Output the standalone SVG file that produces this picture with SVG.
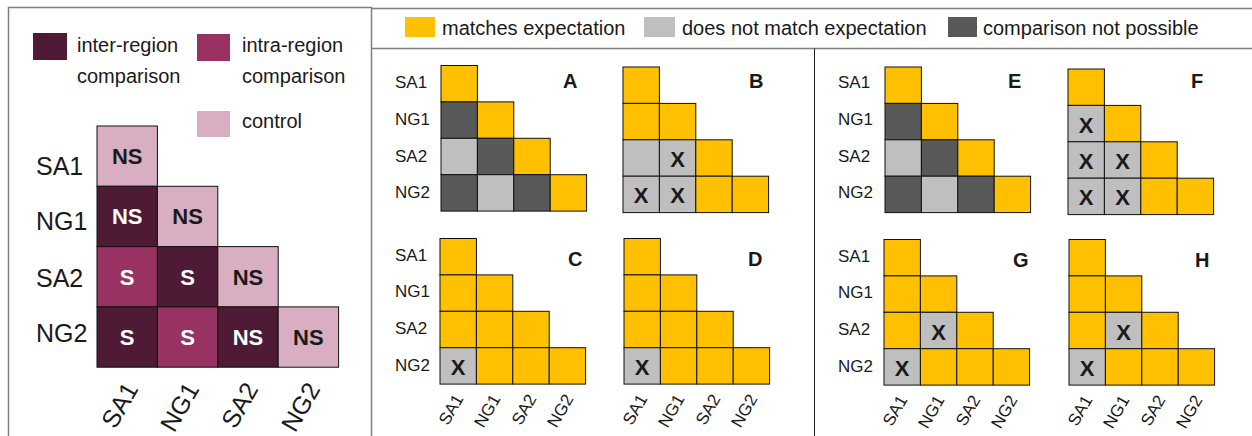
<svg xmlns="http://www.w3.org/2000/svg" width="1252" height="436" viewBox="0 0 1252 436">
<style>
text{font-family:"Liberation Sans",Arial,sans-serif;fill:#1a1a1a}
.frame{fill:none;stroke:#7f7f7f;stroke-width:1.5}
.div{fill:none;stroke:#222;stroke-width:1}
.c{stroke:#111;stroke-width:1}
.Y{fill:#FFC000}
.L{fill:#BFBFBF}
.D{fill:#595959}
.inter{fill:#4E1A35}
.intra{fill:#983262}
.ctrl{fill:#D9AEC2}
.leg{font-size:20px}
.big{font-size:25px}
.row{font-size:17px}
.col{font-size:17px}
.let{font-size:20px;font-weight:bold}
.x{font-size:22px;font-weight:bold;text-anchor:middle}
.ns{font-size:22px;font-weight:bold;text-anchor:middle}
.w{fill:#ffffff}
</style>
<g id="frames">
<path class="frame" d="M8.5,437V7.5H371.5V437"/>
<path class="frame" d="M371.5,8.5H1252M371.5,48.5H1252"/>
<path class="div" d="M814.5,48.5V436"/>
</g>
<g id="legend-left">
<rect class="inter" x="33" y="33" width="34" height="27"/>
<text class="leg" x="77" y="52">inter-region</text>
<text class="leg" x="77" y="83">comparison</text>
<rect class="intra" x="197" y="34" width="33" height="27"/>
<text class="leg" x="242" y="52">intra-region</text>
<text class="leg" x="242" y="83">comparison</text>
<rect class="ctrl" x="197" y="111" width="33" height="26"/>
<text class="leg" x="242" y="128">control</text>
</g>
<g id="legend-right">
<rect class="Y" x="405" y="17" width="30" height="20"/>
<text class="leg" x="442" y="35">matches expectation</text>
<rect class="L" x="644" y="17" width="31" height="20"/>
<text class="leg" x="682" y="35">does not match expectation</text>
<rect class="D" x="948" y="17" width="29" height="20"/>
<text class="leg" x="983" y="35">comparison not possible</text>
</g>
<g id="summary-matrix">
<text class="big" x="36" y="175">SA1</text>
<text class="big" x="36" y="230">NG1</text>
<text class="big" x="36" y="287">SA2</text>
<text class="big" x="36" y="342">NG2</text>
<rect class="c ctrl" x="97" y="126" width="60.4" height="60.3"/>
<rect class="c inter" x="97" y="186.3" width="60.4" height="60.3"/>
<rect class="c ctrl" x="157.4" y="186.3" width="60.4" height="60.3"/>
<rect class="c intra" x="97" y="246.6" width="60.4" height="60.3"/>
<rect class="c inter" x="157.4" y="246.6" width="60.4" height="60.3"/>
<rect class="c ctrl" x="217.8" y="246.6" width="60.4" height="60.3"/>
<rect class="c inter" x="97" y="306.9" width="60.4" height="60.3"/>
<rect class="c intra" x="157.4" y="306.9" width="60.4" height="60.3"/>
<rect class="c inter" x="217.8" y="306.9" width="60.4" height="60.3"/>
<rect class="c ctrl" x="278.2" y="306.9" width="60.4" height="60.3"/>
<text class="ns" x="127.2" y="164">NS</text>
<text class="ns w" x="127.2" y="224">NS</text>
<text class="ns" x="187.6" y="224">NS</text>
<text class="ns w" x="127.2" y="285">S</text>
<text class="ns w" x="187.6" y="285">S</text>
<text class="ns" x="248" y="285">NS</text>
<text class="ns w" x="127.2" y="345">S</text>
<text class="ns w" x="187.6" y="345">S</text>
<text class="ns w" x="248" y="345">NS</text>
<text class="ns" x="308.4" y="345">NS</text>
<text class="big" text-anchor="end" transform="translate(139,389) rotate(-60)">SA1</text>
<text class="big" text-anchor="end" transform="translate(200,389) rotate(-60)">NG1</text>
<text class="big" text-anchor="end" transform="translate(259,389) rotate(-60)">SA2</text>
<text class="big" text-anchor="end" transform="translate(321,389) rotate(-60)">NG2</text>
</g>
<g id="row-labels">
<text class="row" x="395" y="88">SA1</text>
<text class="row" x="395" y="125">NG1</text>
<text class="row" x="395" y="162">SA2</text>
<text class="row" x="395" y="198">NG2</text>
<text class="row" x="395" y="261">SA1</text>
<text class="row" x="395" y="297">NG1</text>
<text class="row" x="395" y="334">SA2</text>
<text class="row" x="395" y="371">NG2</text>
<text class="row" x="838" y="88">SA1</text>
<text class="row" x="838" y="125">NG1</text>
<text class="row" x="838" y="162">SA2</text>
<text class="row" x="838" y="198">NG2</text>
<text class="row" x="838" y="262">SA1</text>
<text class="row" x="838" y="298">NG1</text>
<text class="row" x="838" y="335">SA2</text>
<text class="row" x="838" y="372">NG2</text>
</g>
<g id="panel-A" transform="translate(441,65.5)">
<rect class="c Y" x="0" y="0" width="36.4" height="36.4"/>
<rect class="c D" x="0" y="36.4" width="36.4" height="36.4"/>
<rect class="c Y" x="36.4" y="36.4" width="36.4" height="36.4"/>
<rect class="c L" x="0" y="72.8" width="36.4" height="36.4"/>
<rect class="c D" x="36.4" y="72.8" width="36.4" height="36.4"/>
<rect class="c Y" x="72.8" y="72.8" width="36.4" height="36.4"/>
<rect class="c D" x="0" y="109.2" width="36.4" height="36.4"/>
<rect class="c L" x="36.4" y="109.2" width="36.4" height="36.4"/>
<rect class="c D" x="72.8" y="109.2" width="36.4" height="36.4"/>
<rect class="c Y" x="109.2" y="109.2" width="36.4" height="36.4"/>
<text class="let" x="122" y="22.5">A</text>
</g>
<g id="panel-B" transform="translate(623,67)">
<rect class="c Y" x="0" y="0" width="36.4" height="36.4"/>
<rect class="c Y" x="0" y="36.4" width="36.4" height="36.4"/>
<rect class="c Y" x="36.4" y="36.4" width="36.4" height="36.4"/>
<rect class="c L" x="0" y="72.8" width="36.4" height="36.4"/>
<rect class="c L" x="36.4" y="72.8" width="36.4" height="36.4"/>
<rect class="c Y" x="72.8" y="72.8" width="36.4" height="36.4"/>
<rect class="c L" x="0" y="109.2" width="36.4" height="36.4"/>
<rect class="c L" x="36.4" y="109.2" width="36.4" height="36.4"/>
<rect class="c Y" x="72.8" y="109.2" width="36.4" height="36.4"/>
<rect class="c Y" x="109.2" y="109.2" width="36.4" height="36.4"/>
<text class="x" x="54.6" y="100">X</text>
<text class="x" x="18.2" y="136.4">X</text>
<text class="x" x="54.6" y="136.4">X</text>
<text class="let" x="126" y="21">B</text>
</g>
<g id="panel-C" transform="translate(440,238.5)">
<rect class="c Y" x="0" y="0" width="36.4" height="36.4"/>
<rect class="c Y" x="0" y="36.4" width="36.4" height="36.4"/>
<rect class="c Y" x="36.4" y="36.4" width="36.4" height="36.4"/>
<rect class="c Y" x="0" y="72.8" width="36.4" height="36.4"/>
<rect class="c Y" x="36.4" y="72.8" width="36.4" height="36.4"/>
<rect class="c Y" x="72.8" y="72.8" width="36.4" height="36.4"/>
<rect class="c L" x="0" y="109.2" width="36.4" height="36.4"/>
<rect class="c Y" x="36.4" y="109.2" width="36.4" height="36.4"/>
<rect class="c Y" x="72.8" y="109.2" width="36.4" height="36.4"/>
<rect class="c Y" x="109.2" y="109.2" width="36.4" height="36.4"/>
<text class="x" x="18.2" y="136.4">X</text>
<text class="let" x="128" y="27">C</text>
<text class="col" text-anchor="end" transform="translate(24,160) rotate(-60)">SA1</text>
<text class="col" text-anchor="end" transform="translate(61,160) rotate(-60)">NG1</text>
<text class="col" text-anchor="end" transform="translate(97,160) rotate(-60)">SA2</text>
<text class="col" text-anchor="end" transform="translate(134,160) rotate(-60)">NG2</text>
</g>
<g id="panel-D" transform="translate(624,238.5)">
<rect class="c Y" x="0" y="0" width="36.4" height="36.4"/>
<rect class="c Y" x="0" y="36.4" width="36.4" height="36.4"/>
<rect class="c Y" x="36.4" y="36.4" width="36.4" height="36.4"/>
<rect class="c Y" x="0" y="72.8" width="36.4" height="36.4"/>
<rect class="c Y" x="36.4" y="72.8" width="36.4" height="36.4"/>
<rect class="c Y" x="72.8" y="72.8" width="36.4" height="36.4"/>
<rect class="c L" x="0" y="109.2" width="36.4" height="36.4"/>
<rect class="c Y" x="36.4" y="109.2" width="36.4" height="36.4"/>
<rect class="c Y" x="72.8" y="109.2" width="36.4" height="36.4"/>
<rect class="c Y" x="109.2" y="109.2" width="36.4" height="36.4"/>
<text class="x" x="18.2" y="136.4">X</text>
<text class="let" x="124" y="27">D</text>
<text class="col" text-anchor="end" transform="translate(24,160) rotate(-60)">SA1</text>
<text class="col" text-anchor="end" transform="translate(61,160) rotate(-60)">NG1</text>
<text class="col" text-anchor="end" transform="translate(97,160) rotate(-60)">SA2</text>
<text class="col" text-anchor="end" transform="translate(134,160) rotate(-60)">NG2</text>
</g>
<g id="panel-E" transform="translate(885,67)">
<rect class="c Y" x="0" y="0" width="36.4" height="36.4"/>
<rect class="c D" x="0" y="36.4" width="36.4" height="36.4"/>
<rect class="c Y" x="36.4" y="36.4" width="36.4" height="36.4"/>
<rect class="c L" x="0" y="72.8" width="36.4" height="36.4"/>
<rect class="c D" x="36.4" y="72.8" width="36.4" height="36.4"/>
<rect class="c Y" x="72.8" y="72.8" width="36.4" height="36.4"/>
<rect class="c D" x="0" y="109.2" width="36.4" height="36.4"/>
<rect class="c L" x="36.4" y="109.2" width="36.4" height="36.4"/>
<rect class="c D" x="72.8" y="109.2" width="36.4" height="36.4"/>
<rect class="c Y" x="109.2" y="109.2" width="36.4" height="36.4"/>
<text class="let" x="123" y="21">E</text>
</g>
<g id="panel-F" transform="translate(1068,69)">
<rect class="c Y" x="0" y="0" width="36.4" height="36.4"/>
<rect class="c L" x="0" y="36.4" width="36.4" height="36.4"/>
<rect class="c Y" x="36.4" y="36.4" width="36.4" height="36.4"/>
<rect class="c L" x="0" y="72.8" width="36.4" height="36.4"/>
<rect class="c L" x="36.4" y="72.8" width="36.4" height="36.4"/>
<rect class="c Y" x="72.8" y="72.8" width="36.4" height="36.4"/>
<rect class="c L" x="0" y="109.2" width="36.4" height="36.4"/>
<rect class="c L" x="36.4" y="109.2" width="36.4" height="36.4"/>
<rect class="c Y" x="72.8" y="109.2" width="36.4" height="36.4"/>
<rect class="c Y" x="109.2" y="109.2" width="36.4" height="36.4"/>
<text class="x" x="18.2" y="63.6">X</text>
<text class="x" x="18.2" y="100">X</text>
<text class="x" x="54.6" y="100">X</text>
<text class="x" x="18.2" y="136.4">X</text>
<text class="x" x="54.6" y="136.4">X</text>
<text class="let" x="123" y="19">F</text>
</g>
<g id="panel-G" transform="translate(884,239.5)">
<rect class="c Y" x="0" y="0" width="36.4" height="36.4"/>
<rect class="c Y" x="0" y="36.4" width="36.4" height="36.4"/>
<rect class="c Y" x="36.4" y="36.4" width="36.4" height="36.4"/>
<rect class="c Y" x="0" y="72.8" width="36.4" height="36.4"/>
<rect class="c L" x="36.4" y="72.8" width="36.4" height="36.4"/>
<rect class="c Y" x="72.8" y="72.8" width="36.4" height="36.4"/>
<rect class="c L" x="0" y="109.2" width="36.4" height="36.4"/>
<rect class="c Y" x="36.4" y="109.2" width="36.4" height="36.4"/>
<rect class="c Y" x="72.8" y="109.2" width="36.4" height="36.4"/>
<rect class="c Y" x="109.2" y="109.2" width="36.4" height="36.4"/>
<text class="x" x="54.6" y="100">X</text>
<text class="x" x="18.2" y="136.4">X</text>
<text class="let" x="129" y="27">G</text>
<text class="col" text-anchor="end" transform="translate(24,160) rotate(-60)">SA1</text>
<text class="col" text-anchor="end" transform="translate(61,160) rotate(-60)">NG1</text>
<text class="col" text-anchor="end" transform="translate(97,160) rotate(-60)">SA2</text>
<text class="col" text-anchor="end" transform="translate(134,160) rotate(-60)">NG2</text>
</g>
<g id="panel-H" transform="translate(1069,239.5)">
<rect class="c Y" x="0" y="0" width="36.4" height="36.4"/>
<rect class="c Y" x="0" y="36.4" width="36.4" height="36.4"/>
<rect class="c Y" x="36.4" y="36.4" width="36.4" height="36.4"/>
<rect class="c Y" x="0" y="72.8" width="36.4" height="36.4"/>
<rect class="c L" x="36.4" y="72.8" width="36.4" height="36.4"/>
<rect class="c Y" x="72.8" y="72.8" width="36.4" height="36.4"/>
<rect class="c L" x="0" y="109.2" width="36.4" height="36.4"/>
<rect class="c Y" x="36.4" y="109.2" width="36.4" height="36.4"/>
<rect class="c Y" x="72.8" y="109.2" width="36.4" height="36.4"/>
<rect class="c Y" x="109.2" y="109.2" width="36.4" height="36.4"/>
<text class="x" x="54.6" y="100">X</text>
<text class="x" x="18.2" y="136.4">X</text>
<text class="let" x="126" y="27">H</text>
<text class="col" text-anchor="end" transform="translate(24,160) rotate(-60)">SA1</text>
<text class="col" text-anchor="end" transform="translate(61,160) rotate(-60)">NG1</text>
<text class="col" text-anchor="end" transform="translate(97,160) rotate(-60)">SA2</text>
<text class="col" text-anchor="end" transform="translate(134,160) rotate(-60)">NG2</text>
</g>
</svg>
